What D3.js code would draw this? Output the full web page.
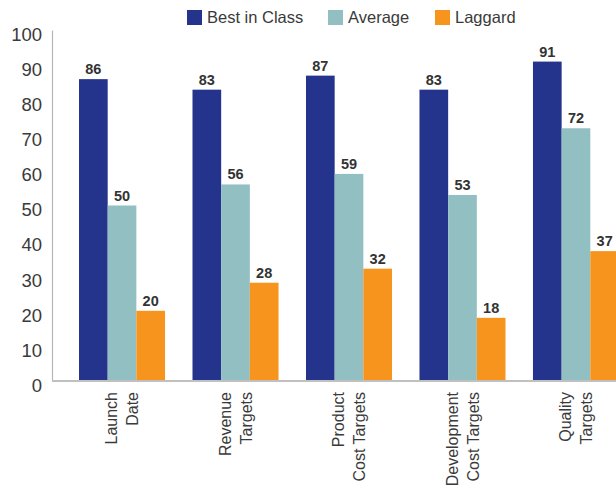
<!DOCTYPE html>
<html>
<head>
<meta charset="utf-8">
<script src="https://cdn.jsdelivr.net/npm/d3@7"></script>
<style>
  html, body { margin: 0; padding: 0; background: #fff; }
  svg { display: block; font-family: "Liberation Sans", Arial, sans-serif; }
</style>
</head>
<body>
<svg id="chart" width="616" height="488"></svg>
<script>
// Chart data
const categories = [
  ["Launch", "Date"],
  ["Revenue", "Targets"],
  ["Product", "Cost Targets"],
  ["Development", "Cost Targets"],
  ["Quality", "Targets"]
];
const seriesNames = ["Best in Class", "Average", "Laggard"];
const bestInClass = [86, 83, 87, 83, 91];
const average = [50, 56, 59, 53, 72];
const laggard = [20, 28, 32, 18, 37];
const yTicks = [0, 10, 20, 30, 40, 50, 60, 70, 80, 90, 100];
const colors = ["#24338c", "#92bfc1", "#f7941d"];

const series = [bestInClass, average, laggard];
const svg = d3.select("#chart");

const plotLeft = 52, plotBottom = 381, plotTop = 30;
const catKeys = categories.map((c, i) => i);

const x0 = d3.scaleBand()
  .domain(catKeys)
  .range([plotLeft, 646])
  .paddingInner(0.242)
  .paddingOuter(0.238);

const x1 = d3.scaleBand()
  .domain(seriesNames)
  .range([0, x0.bandwidth()]);

const y = d3.scaleLinear().domain([0, 100]).range([plotBottom, plotTop]);

// Bars
const groups = svg.append("g").selectAll("g")
  .data(catKeys)
  .join("g")
  .attr("transform", i => `translate(${x0(i)},0)`);

groups.selectAll("rect")
  .data(i => series.map((s, k) => ({ name: seriesNames[k], value: s[i], k })))
  .join("rect")
  .attr("x", d => x1(d.name))
  .attr("y", d => y(d.value))
  .attr("width", x1.bandwidth())
  .attr("height", d => y(0) - y(d.value))
  .attr("fill", d => colors[d.k]);

// Value labels
groups.selectAll("text.val")
  .data(i => series.map((s, k) => ({ name: seriesNames[k], value: s[i], k })))
  .join("text")
  .attr("class", "val")
  .attr("x", d => x1(d.name) + x1.bandwidth() / 2)
  .attr("y", d => y(d.value) - 5)
  .attr("text-anchor", "middle")
  .attr("font-size", 14.5)
  .attr("font-weight", "bold")
  .attr("fill", "#333")
  .text(d => d.value);

// Y axis
const yAxis = d3.axisLeft(y)
  .tickValues(yTicks)
  .tickSize(0)
  .tickPadding(10);
const yG = svg.append("g")
  .attr("transform", `translate(${plotLeft},0)`)
  .call(yAxis);
yG.select(".domain").attr("stroke", "#b5b5b5").attr("stroke-width", 1.2);
yG.selectAll("text")
  .attr("font-size", 18.5)
  .attr("font-family", "Liberation Sans, Arial, sans-serif")
  .attr("fill", "#3a3a3a")
  .attr("dy", "0.72em")
  .attr("transform", "translate(0,-3)");

// Baseline
svg.append("line")
  .attr("x1", plotLeft).attr("x2", 616)
  .attr("y1", plotBottom).attr("y2", plotBottom)
  .attr("stroke", "#c0c0c0")
  .attr("stroke-width", 2);

// Category labels (rotated, two lines)
const catG = svg.append("g").selectAll("g")
  .data(catKeys)
  .join("g")
  .attr("transform", i => `translate(${x0(i) + x0.bandwidth() / 2},392) rotate(-90)`);

catG.selectAll("text")
  .data(i => categories[i].map((t, j) => ({ t, j })))
  .join("text")
  .attr("x", 0)
  .attr("y", d => (d.j === 0 ? -10.5 : 10.5))
  .attr("dy", "0.35em")
  .attr("text-anchor", "end")
  .attr("font-size", 16)
  .attr("fill", "#3a3a3a")
  .text(d => d.t);

// Legend
const legendX = [187, 328, 435];
const legend = svg.append("g").selectAll("g")
  .data(seriesNames)
  .join("g")
  .attr("transform", (d, i) => `translate(${legendX[i]},10)`);
legend.append("rect")
  .attr("width", 15).attr("height", 15)
  .attr("fill", (d, i) => colors[i]);
legend.append("text")
  .attr("x", 20)
  .attr("y", 7.5)
  .attr("dy", "0.36em")
  .attr("font-size", 16.5)
  .attr("fill", "#3a3a3a")
  .text(d => d);
</script>
</body>
</html>
